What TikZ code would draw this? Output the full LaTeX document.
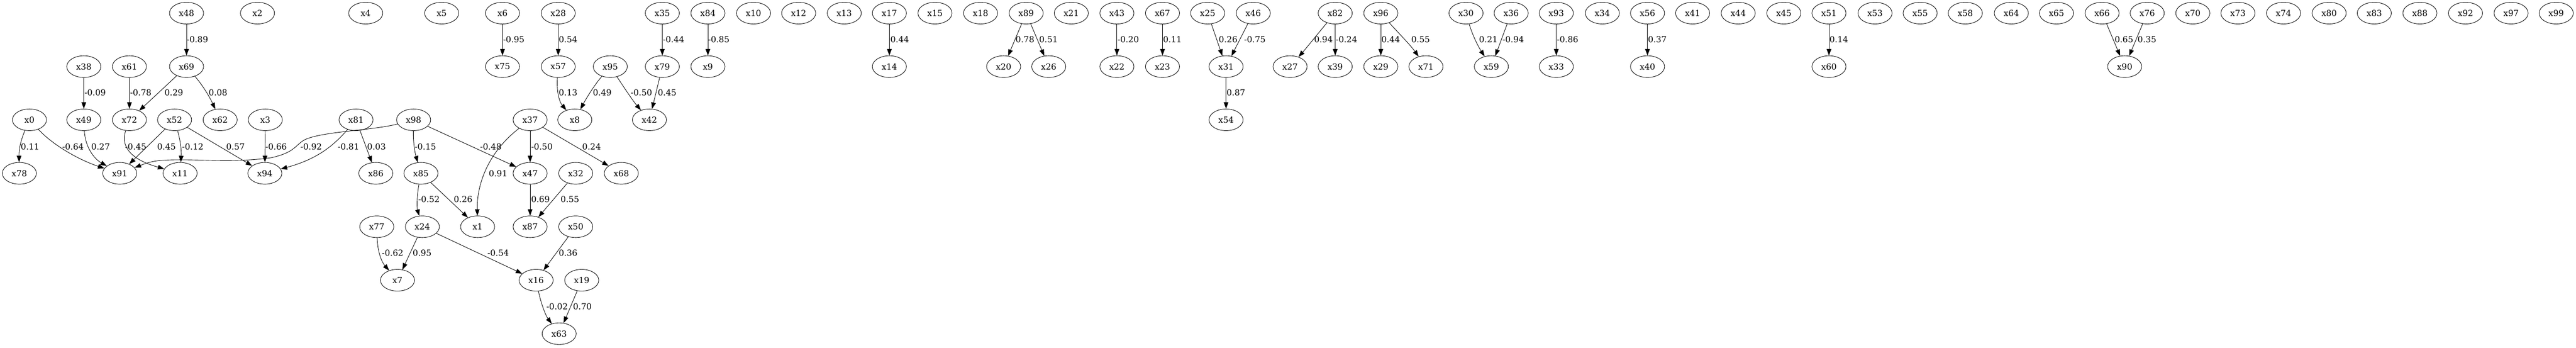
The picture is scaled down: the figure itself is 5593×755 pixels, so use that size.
\documentclass[tikz,border=0pt]{standalone}
\usepackage{fontspec}
\setmainfont{DejaVu Serif}
\usetikzlibrary{shapes.geometric,arrows.meta}
\begin{document}
\begin{tikzpicture}[x=0.75pt,y=-0.75pt,
  nd/.style={ellipse,draw,line width=0.75pt,minimum width=55.5pt,minimum height=35.25pt,inner sep=0pt,font=\fontsize{13.6}{16}\selectfont},
  lbl/.style={anchor=west,inner sep=0pt,font=\fontsize{13.6}{16}\selectfont},
  edge/.style={line width=0.75pt,-{Triangle[length=10.5pt,width=7.5pt]}}]
\useasboundingbox (0,0) rectangle (5593,755);
% row 1
\foreach \n/\x in {48/405,2/559,4/794,5/959,6/1091,28/1212,35/1438,84/1537,10/1636,12/1734,13/1833,17/1931,15/2030,18/2129,89/2228,21/2326,43/2425,67/2524,25/2622,46/2721,82/2899,96/2998,30/3183,36/3281,93/3379,34/3479,56/3577,41/3675,44/3774,45/3873,51/3971,53/4071,55/4169,58/4267,64/4367,65/4465,66/4564,76/4662,70/4761,73/4859,74/4958,80/5057,83/5155,88/5254,92/5353,97/5452,99/5550}
  \node[nd] (x\n) at (\x,28.5) {x\n};
% row 2
\foreach \n/\x in {38/182,61/281,69/405,75/1091,57/1212,95/1325,79/1438,9/1537,14/1931,20/2179,26/2277,22/2425,23/2524,31/2662,27/2801,39/2899,29/2998,71/3096,59/3238,33/3379,40/3577,60/3971,90/4613}
  \node[nd] (x\n) at (\x,144.5) {x\n};
% row 3
\foreach \n/\x in {0/64,49/182,72/281,52/379,62/478,3/576,81/773,98/898,37/1151,8/1248,42/1410,54/2662}
  \node[nd] (x\n) at (\x,260) {x\n};
% row 4
\foreach \n/\x in {78/42,91/260,11/391,94/575,86/816,85/914,47/1151,32/1250,68/1349}
  \node[nd] (x\n) at (\x,376) {x\n};
% row 5
\foreach \n/\x in {77/818,24/917,1/1037,87/1151,50/1250}
  \node[nd] (x\n) at (\x,492) {x\n};
% row 6
\foreach \n/\x in {7/863,16/1164,19/1263}
  \node[nd] (x\n) at (\x,608) {x\n};
% row 7
\node[nd] (x63) at (1214,724) {x63};

% straight edges
\foreach \a/\b in {48/69,38/49,61/72,69/72,52/91,52/94,3/94,81/86,98/47,37/47,37/68,6/75,28/57,79/42,35/79,84/9,85/1,47/87,32/87,24/7,24/16,50/16,19/63,17/14,89/20,89/26,43/22,67/23,25/31,46/31,31/54,82/39,96/29,36/59,93/33,56/40,51/60,66/90,76/90}
  \draw[edge] (x\a) -- (x\b);
% curved edges
\draw[edge] (x0) .. controls (47,300) and (41,320) .. (x78);
\draw[edge] (x0) .. controls (120,320) and (180,350) .. (x91);
\draw[edge] (x49) .. controls (185,320) and (205,345) .. (x91);
\draw[edge] (x72) .. controls (262,315) and (280,345) .. (x11);
\draw[edge] (x52) .. controls (393,310) and (394,330) .. (x11);
\draw[edge] (x69) .. controls (440,185) and (455,210) .. (x62);
\draw[edge] (x98) .. controls (810,283) and (700,285) .. (662,303) .. controls (640,315) and (642,330) .. (590,342) .. controls (500,355) and (420,343) .. (350,348) .. controls (325,350) and (310,357) .. (x91);
\draw[edge] (x81) .. controls (725,315) and (690,345) .. (x94);
\draw[edge] (x98) .. controls (897,315) and (902,335) .. (x85);
\draw[edge] (x37) .. controls (1060,330) and (1035,400) .. (x1);
\draw[edge] (x57) .. controls (1208,200) and (1215,222) .. (x8);
\draw[edge] (x95) .. controls (1290,185) and (1272,215) .. (x8);
\draw[edge] (x95) .. controls (1355,190) and (1375,220) .. (x42);
\draw[edge] (x85) .. controls (905,425) and (905,450) .. (x24);
\draw[edge] (x77) .. controls (820,550) and (830,570) .. (x7);
\draw[edge] (x16) .. controls (1175,660) and (1185,685) .. (x63);
\draw[edge] (x82) .. controls (2862,72) and (2840,100) .. (x27);
\draw[edge] (x96) .. controls (3030,65) and (3060,95) .. (x71);
\draw[edge] (x30) .. controls (3198,80) and (3212,105) .. (x59);

% labels
\foreach \t/\x/\i in {-0.89/405/a1,-0.95/1092/a2,0.54/1213/a3,-0.44/1439/a4,-0.85/1537/a5,0.44/1933/a6,0.78/2205/a7,0.51/2256/a8,-0.20/2426/a9,0.11/2525/a10,0.26/2646/a11,-0.75/2701/a12,0.94/2853/a13,-0.24/2900/a14,0.44/2999/a15,0.55/3064/a16,0.21/3211/a17,-0.94/3262/a18,-0.86/3380/a19,0.37/3578/a20,0.14/3972/a21,0.65/4591/a22,0.35/4641/a23}
  \node[lbl] (l\i) at (\x,86) {\t};
\foreach \t/\x/\i in {-0.09/183/b1,-0.78/282/b2,0.29/357/b3,0.08/453/b4,0.13/1213/b5,0.49/1287/b6,-0.50/1369/b7,0.45/1428/b8,0.87/2663/b9}
  \node[lbl] (l\i) at (\x,201) {\t};
\foreach \t/\x/\i in {0.11/45/c1,-0.64/135/c2,0.27/198/c3,-0.45/271/c4,0.45/341/c5,-0.12/395/c6,0.57/491/c7,-0.66/576/c8,-0.92/652/c9,-0.81/733/c10,0.03/797/c11,-0.15/900/c12,-0.48/1042/c13,-0.50/1153/c14,0.24/1264/c15}
  \node[lbl] (l\i) at (\x,318) {\t};
\node[lbl] (lc16) at (1061,376) {0.91};
\foreach \t/\x/\i in {-0.52/908/d1,0.26/985/d2,0.69/1153/d3,0.55/1217/d4}
  \node[lbl] (l\i) at (\x,433) {\t};
\foreach \t/\x/\i in {-0.62/829/e1,0.95/896/e2,-0.54/1058/e3,0.36/1213/e4}
  \node[lbl] (l\i) at (\x,549) {\t};
\foreach \t/\x/\i in {-0.02/1186/f1,0.70/1244/f2}
  \node[lbl] (l\i) at (\x,665) {\t};
\end{tikzpicture}
\end{document}
